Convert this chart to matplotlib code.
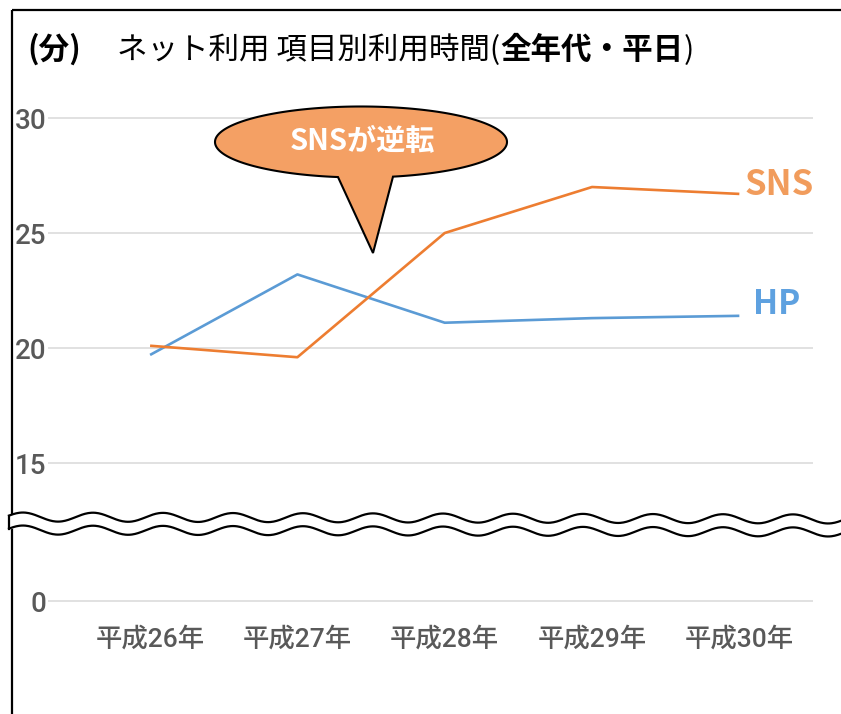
import numpy as np
import matplotlib
matplotlib.use('Agg')
import matplotlib.pyplot as plt
from matplotlib.patches import Polygon

# ---- data ----
years = ['平成26年', '平成27年', '平成28年', '平成29年', '平成30年']
hp_values = [19.7, 23.2, 21.1, 21.3, 21.4]
sns_values = [20.1, 19.6, 25.0, 27.0, 26.7]
ytick_values = [0, 15, 20, 25, 30]
title_unit = '(分)'
title_parts = [('ネット利用 項目別利用時間(', 'normal'), ('全年代・平日', 'bold'), (')', 'normal')]
callout_text = 'SNSが逆転'

JP = ['Noto Sans CJK JP', 'DejaVu Sans']
TICKF = ['Roboto', 'Noto Sans CJK JP', 'DejaVu Sans']
GRAY = '#595959'
C_HP = '#5b9bd5'
C_SNS = '#ed7d31'

fig = plt.figure(figsize=(8.41, 7.14), dpi=100)
fig.patch.set_facecolor('white')

ax = fig.add_axes([48/841, 0.1569, 765/841, 0.7036])


def fwd(y):
    y = np.asarray(y, float)
    return np.where(y >= 15, y, 9 + y * 0.4)


def inv(v):
    v = np.asarray(v, float)
    return np.where(v >= 15, v, (v - 9) / 0.4)


ax.set_yscale('function', functions=(fwd, inv))
x = np.arange(len(years))
ax.plot(x, hp_values, color=C_HP, lw=1.9, solid_capstyle='butt', zorder=3)
ax.plot(x, sns_values, color=C_SNS, lw=1.9, solid_capstyle='butt', zorder=3)
ax.set_xlim(-0.693, 4.5)
ax.set_ylim(-0.1, 30.8)
ax.set_yticks(ytick_values)
ax.set_yticklabels([str(v) for v in ytick_values])
ax.set_xticks(x)
ax.set_xticklabels(years)
ax.yaxis.grid(True, color='#dcdcdc', lw=1.2)
ax.set_axisbelow(True)
for s in ax.spines.values():
    s.set_visible(False)
ax.tick_params(axis='both', length=0, colors=GRAY)
ax.tick_params(axis='y', pad=1, labelsize=20)
ax.tick_params(axis='x', pad=18, labelsize=19)
for lab in ax.get_yticklabels() + ax.get_xticklabels():
    lab.set_family(TICKF)
    lab.set_fontweight('medium')

ax.annotate('SNS', xy=(x[-1], sns_values[-1]), xytext=(4.0, 7), textcoords='offset points',
            color='#f19c5c', fontsize=25, fontweight='bold', family=JP, va='center', ha='left')
ax.annotate('HP', xy=(x[-1], hp_values[-1]), xytext=(10, 8.5), textcoords='offset points',
            color='#5ea1e0', fontsize=24, fontweight='bold', family=JP, va='center', ha='left')

# ---- overlay in pixel coordinates ----
ov = fig.add_axes([0, 0, 1, 1], zorder=10)
ov.set_xlim(0, 841)
ov.set_ylim(714, 0)
ov.axis('off')
ov.patch.set_alpha(0)

# frame
ov.plot([12, 12], [10, 714], color='black', lw=1.6, solid_capstyle='butt')
ov.plot([12, 841], [10, 10], color='black', lw=1.6, solid_capstyle='butt')

# wavy axis break
wx = np.linspace(9, 841, 800)
period = 70.0
amp = 4.5
up = 517 + (wx - 9) / 832 * 2 - amp * np.cos(2 * np.pi * (wx - 23) / period)
lo = up + 13
ov.fill_between(wx, up, lo, color='white', zorder=5)
ov.plot(wx, up, color='black', lw=1.6, zorder=6)
ov.plot(wx, lo, color='black', lw=1.6, zorder=6)
ov.plot([9, 9], [up[0], lo[0]], color='black', lw=1.6, zorder=6)

# callout bubble
cx, cy, a, b = 361, 142, 146, 35.5
xl, xr = 338, 393
tip = (373, 253)
tl = np.arccos((xl - cx) / a)
tr = np.arccos((xr - cx) / a) + 2 * np.pi
tt = np.linspace(tl, tr, 300)
pts = np.column_stack([cx + a * np.cos(tt), cy + b * np.sin(tt)])
pts = np.vstack([pts, [tip], pts[:1]])
bubble = Polygon(pts, closed=True, facecolor='#f4a064', edgecolor='black', lw=1.5, zorder=7)
ov.add_patch(bubble)
ov.text(cx + 1, cy - 1, callout_text, color='white', fontsize=21, fontweight='bold', family=JP,
        ha='center', va='center', zorder=8)

# title
ov.text(27, 59, title_unit, fontsize=22, fontweight='bold', family=JP, va='baseline')
fig.canvas.draw()
r = fig.canvas.get_renderer()
tx = 117
for txt, w in title_parts:
    t = ov.text(tx, 59, txt, fontsize=22, fontweight=w, family=JP, va='baseline')
    bb = t.get_window_extent(renderer=r)
    tx = bb.x1

fig.savefig('out.png', dpi=100, facecolor='white')
